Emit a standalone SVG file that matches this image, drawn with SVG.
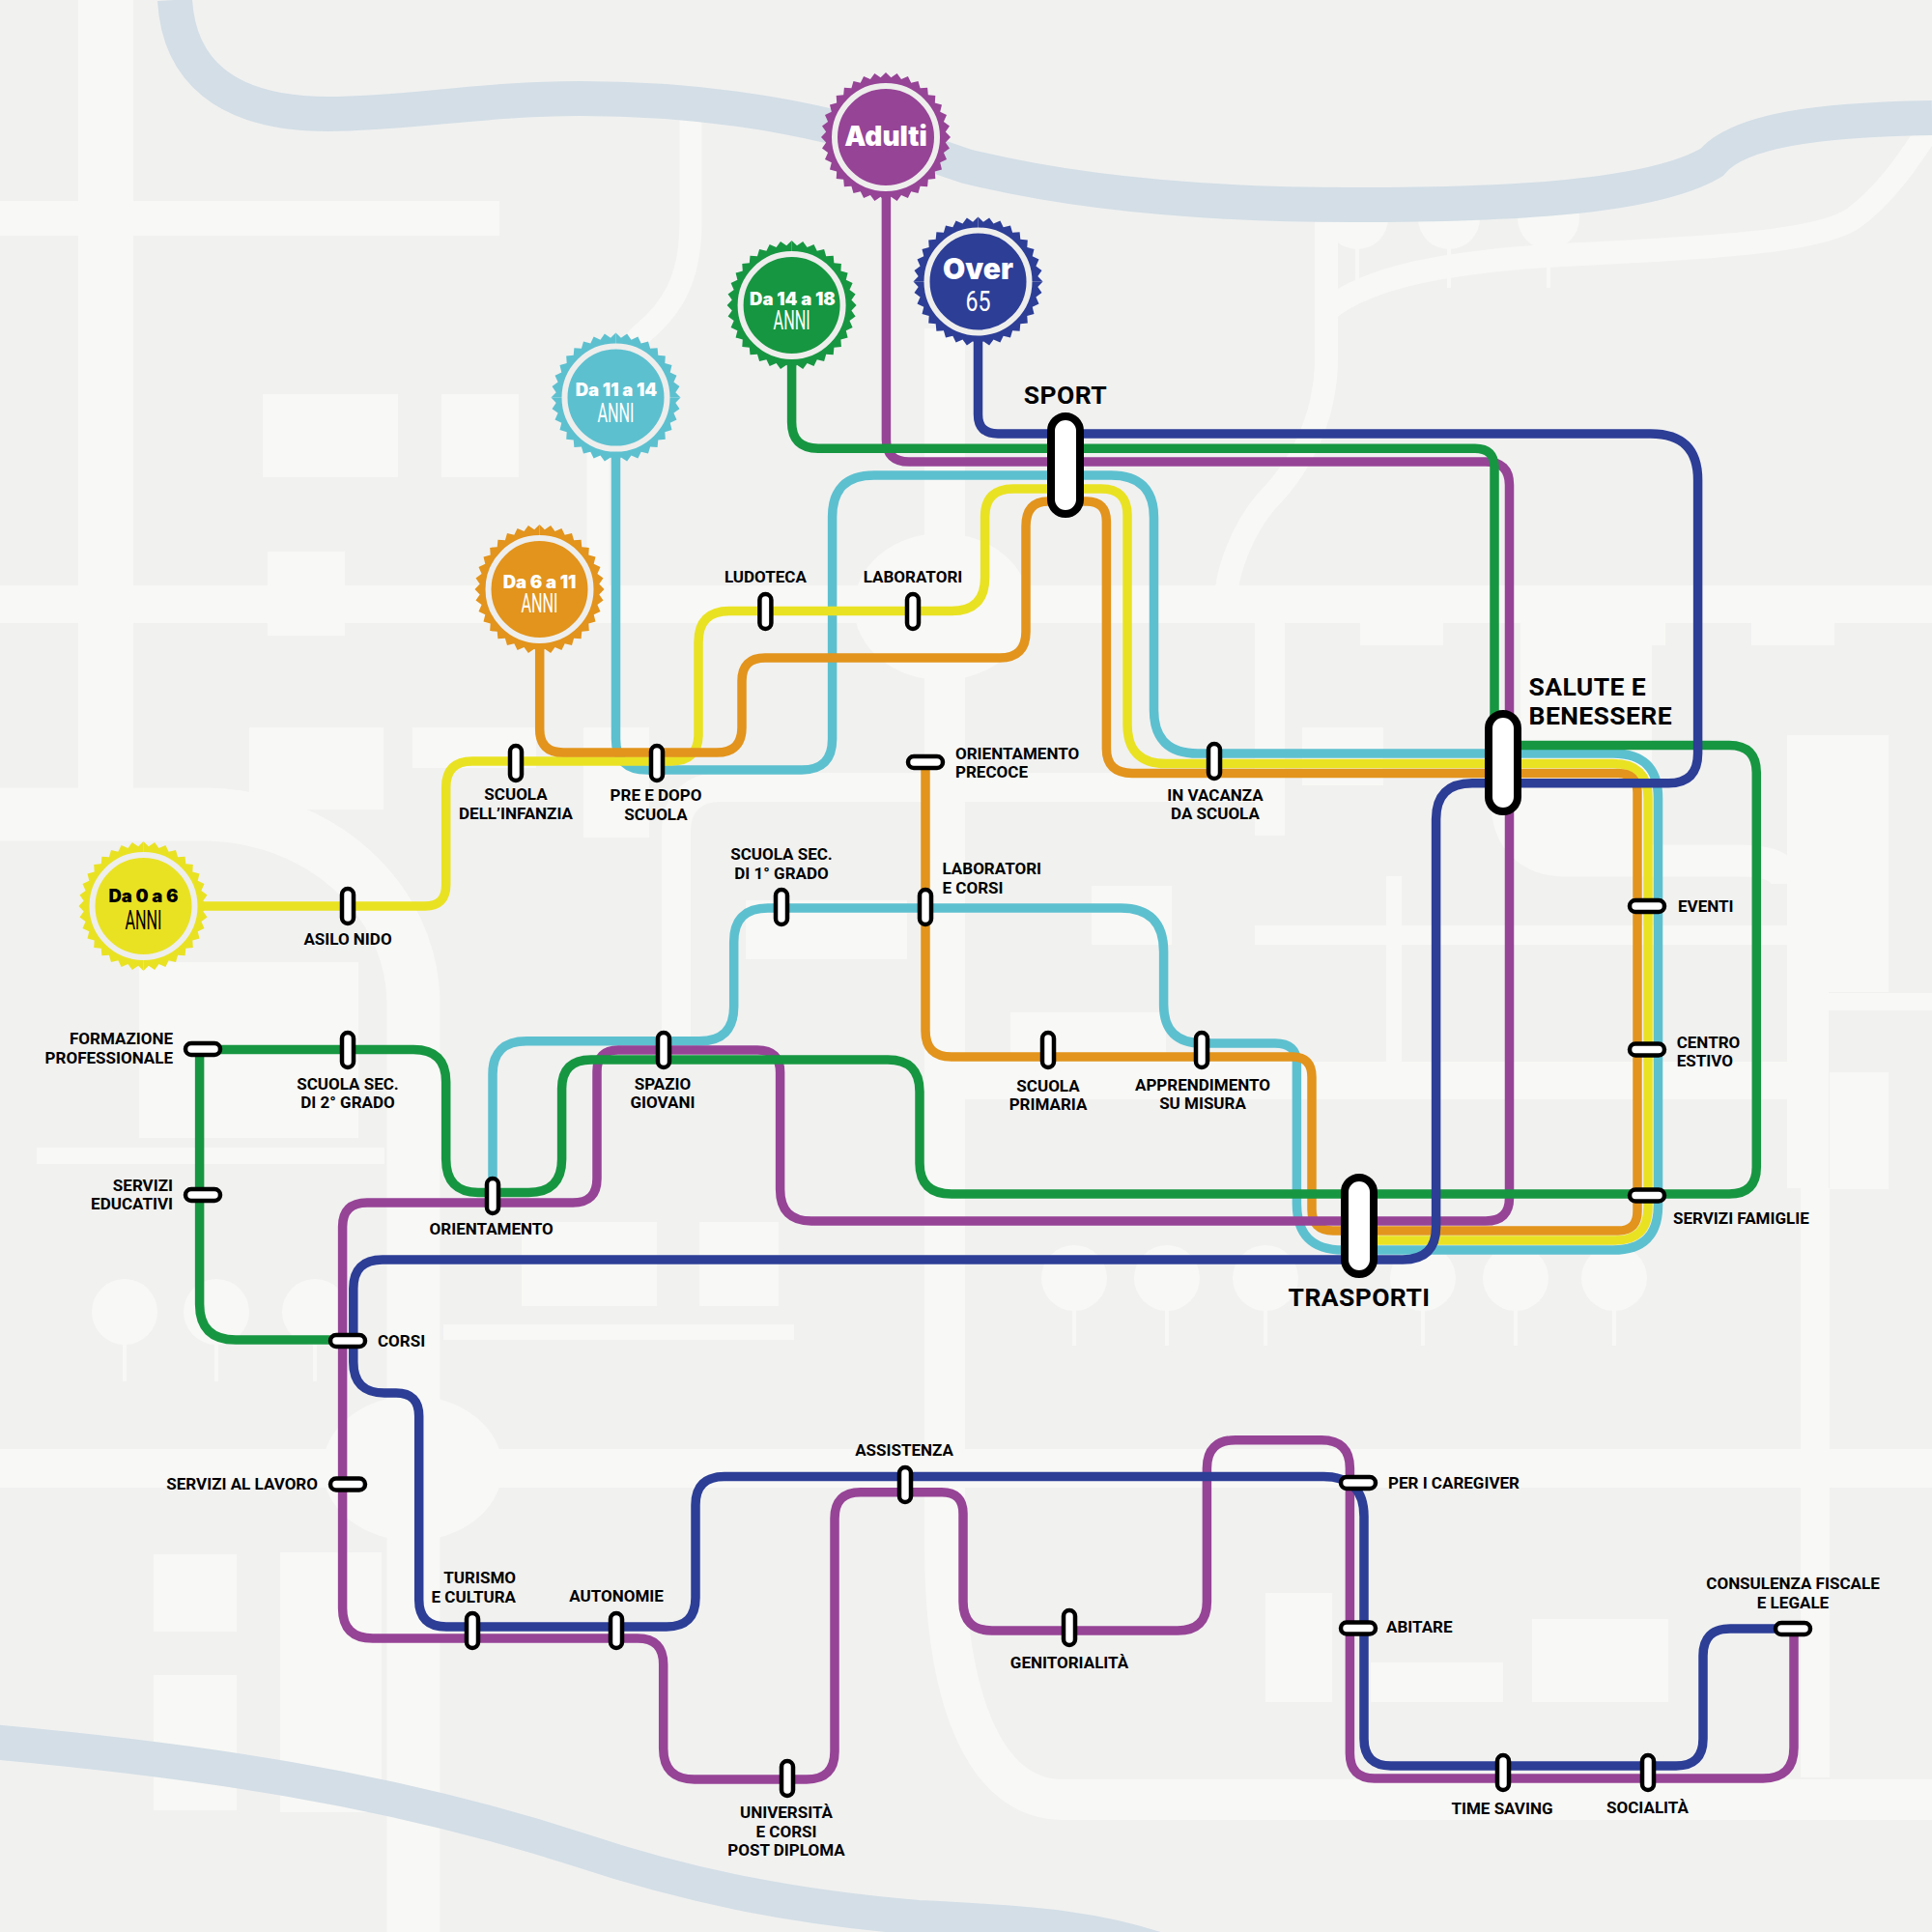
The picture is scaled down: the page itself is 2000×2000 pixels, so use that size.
<svg xmlns="http://www.w3.org/2000/svg" width="2000" height="2000" viewBox="0 0 2000 2000">
<style>
.road{fill:#f8f8f6}
.roadl{fill:none;stroke:#f8f8f6}
.river{fill:none;stroke:#d3dee6;stroke-width:36}
.ln{fill:none;stroke-width:9.5;stroke-linejoin:round}
.st{fill:#fff;stroke:#000;stroke-width:4.5}
.hub{fill:#fff;stroke:#000;stroke-width:8}
.ring{stroke:#eeeeed;stroke-width:6}
text{font-family:Roboto,"Liberation Sans",sans-serif;font-weight:700;fill:#000}
.l{font-size:17px}
.b{font-size:26.5px;letter-spacing:.4px}
.m{text-anchor:middle}
.e{text-anchor:end}
.t{font-family:Inter,"Open Sans",sans-serif;font-weight:900;fill:#fff;text-anchor:middle}
.a{font-family:Roboto,sans-serif;font-weight:400;fill:#fff;text-anchor:middle;font-size:27px}
</style>
<defs>
<path id="q" d="M0 0L67 0L61.8 5.4L66 11.6L59.9 16L63 22.9L56.2 26.2L58 33.5L50.8 35.6L51.3 43.1L43.8 43.8L43.1 51.3L35.6 50.8L33.5 58L26.2 56.2L22.9 63L16 59.9L11.6 66L5.4 61.8L0 67Z"/>
<g id="burst"><use href="#q"/><use href="#q" transform="rotate(90)"/><use href="#q" transform="rotate(180)"/><use href="#q" transform="rotate(270)"/></g>
</defs>
<rect width="2000" height="2000" fill="#f1f1f0"/>
<g id="background">
<rect class="road" x="81" y="0" width="57" height="830"/>
<rect class="road" x="0" y="208" width="517" height="36"/>
<rect class="road" x="0" y="606" width="2000" height="39"/>
<rect class="road" x="272" y="408" width="140" height="86"/>
<rect class="road" x="457" y="408" width="80" height="86"/>
<rect class="road" x="277" y="571" width="80" height="87"/>
<rect class="road" x="258" y="753" width="139" height="85"/>
<rect class="road" x="427" y="753" width="128" height="42"/>
<rect class="road" x="604" y="753" width="68" height="114"/>
<path class="roadl" stroke-width="55" d="M0 843H210C330 843 428 930 428 1040V2000"/>
<rect class="road" x="144" y="996" width="227" height="182"/>
<rect class="road" x="38" y="1188" width="360" height="17"/>
<g class="road">
<circle cx="129" cy="1358" r="34"/><circle cx="224" cy="1358" r="34"/><circle cx="326" cy="1358" r="34"/>
<circle cx="1112" cy="1323" r="34"/><circle cx="1208" cy="1323" r="34"/><circle cx="1310" cy="1323" r="34"/><circle cx="1473" cy="1323" r="34"/><circle cx="1569" cy="1323" r="34"/><circle cx="1671" cy="1323" r="34"/>
<rect x="127" y="1380" width="4" height="50"/><rect x="222" y="1380" width="4" height="50"/><rect x="324" y="1380" width="4" height="50"/>
<rect x="1110" y="1345" width="4" height="48"/><rect x="1206" y="1345" width="4" height="48"/><rect x="1308" y="1345" width="4" height="48"/><rect x="1471" y="1345" width="4" height="48"/><rect x="1567" y="1345" width="4" height="48"/><rect x="1669" y="1345" width="4" height="48"/>
<circle cx="1405" cy="226" r="32"/><circle cx="1500" cy="226" r="32"/><circle cx="1603" cy="226" r="32"/>
<rect x="1403" y="250" width="4" height="48"/><rect x="1498" y="250" width="4" height="48"/><rect x="1601" y="250" width="4" height="48"/>
</g>
<rect class="road" x="459" y="1371" width="363" height="16"/>
<rect class="road" x="540" y="1265" width="140" height="87"/>
<rect class="road" x="724" y="1265" width="82" height="87"/>
<rect class="road" x="0" y="1500" width="2000" height="40"/>
<ellipse class="road" cx="427" cy="1520" rx="93" ry="75"/>
<rect class="road" x="159" y="1609" width="86" height="80"/>
<rect class="road" x="159" y="1734" width="86" height="140"/>
<rect class="road" x="290" y="1607" width="105" height="269"/>
<path class="roadl" stroke-width="42" d="M978 340V1600C978 1760 1020 1863 1100 1863H2000"/>
<ellipse class="road" cx="975" cy="628" rx="91" ry="76"/>
<rect class="road" x="1310" y="1649" width="69" height="113"/>
<rect class="road" x="1419" y="1721" width="137" height="41"/>
<rect class="road" x="1586" y="1676" width="141" height="86"/>
<path class="roadl" stroke-width="24" d="M1373 230V370C1373 440 1340 490 1310 520C1285 550 1272 590 1270 610"/>
<path class="roadl" stroke-width="24" d="M1375 320C1420 285 1500 272 1600 265C1720 258 1880 255 1920 225C1960 195 1985 150 2000 130"/>
<path class="roadl" stroke-width="23" d="M715 120V230C715 290 695 320 665 345C635 375 618 400 619 470V610"/>
<rect class="road" x="1408" y="645" width="86" height="23"/>
<rect class="road" x="1574" y="645" width="150" height="23"/>
<rect class="road" x="1813" y="645" width="86" height="23"/>
<rect class="road" x="1299" y="645" width="31" height="220"/>
<path class="roadl" stroke-width="30" d="M700 1100V860C700 830 720 815 745 815H1310"/>
<rect class="road" x="772" y="932" width="167" height="61"/>
<rect class="road" x="1130" y="917" width="83" height="61"/>
<rect class="road" x="1299" y="958" width="551" height="20"/>
<rect class="road" x="1435" y="907" width="16" height="193"/>
<rect class="road" x="1046" y="1048" width="161" height="50"/>
<rect class="road" x="998" y="1099" width="852" height="39"/>
<rect class="road" x="1348" y="753" width="84" height="60"/>
<rect class="road" x="1574" y="668" width="136" height="207"/>
<path class="roadl" stroke-width="33" d="M1560 760V830C1560 870 1585 891 1620 891H1800C1835 891 1850 900 1850 915"/>
<rect class="road" x="1850" y="761" width="105" height="266"/>
<rect class="road" x="1850" y="1027" width="43" height="203"/>
<rect class="road" x="1864" y="1230" width="30" height="610"/>
<rect class="road" x="1893" y="1028" width="107" height="18"/>
<rect class="road" x="1894" y="1110" width="61" height="121"/>
</g>
<g id="rivers">
<path class="river" d="M181 0C185 70 230 118 340 118C420 118 500 102 600 102C760 102 880 130 1000 172C1120 202 1260 212 1400 212C1560 212 1710 205 1772 168C1800 135 1880 124 2000 122"/>
<path class="river" d="M-10 1803C200 1822 400 1850 600 1915C720 1955 830 1975 950 1985C1060 1990 1150 1995 1230 2030"/>
</g>
<g id="connectors">
<path class="ln" stroke="#5dc0cf" d="M637.5 411V765Q637.5 797 670 797H830Q861.6 797 861.6 765V535Q861.6 492 905 492H1150Q1194.5 492 1194.5 536V735Q1194.5 780 1240 780H1670Q1716.5 780 1716.5 826V1248Q1716.5 1294 1670 1294H1390Q1342.4 1294 1342.4 1246V1100Q1342.4 1080 1320 1080H1245Q1204.6 1080 1204.6 1040V985Q1204.6 940 1160 940H795Q759.7 940 759.7 975V1042Q759.7 1077.7 724 1077.7H545Q510 1077.7 510 1112V1237"/>
<path class="ln" stroke="#e9e223" d="M148 938H440Q461.7 938 461.7 916V815Q461.7 788 489 788H695Q723 788 723 760V665Q723 632.6 755 632.6H985Q1019.6 632.6 1019.6 598V535Q1019.6 506 1049 506H1140Q1167 506 1167 533V750Q1167 790.6 1207 790.6H1670Q1706 790.6 1706 826V1250Q1706 1284 1672 1284H1407"/>
<path class="ln" stroke="#e2941c" d="M558.7 610V755Q558.7 779 583 779H742Q768 779 768 753V705Q768 681 792 681H1035Q1062 681 1062 654V545Q1062 519 1085 519H1125Q1145.4 519 1145.4 540V775Q1145.4 800.4 1172 800.4H1675Q1695 800.4 1695 820V1254Q1695 1274 1675 1274H1380Q1358 1274 1358 1252V1115Q1358 1094 1338 1094H985Q958 1094 958 1067V789"/>
<path class="ln" stroke="#964496" d="M917.4 142V455Q917.4 478 941 478H1538Q1562.5 478 1562.5 502V1240Q1562.5 1264 1538 1264H840Q807.6 1264 807.6 1231V1110Q807.6 1087 784 1087H640Q618 1087 618 1109V1220Q618 1245 593 1245H380Q354.6 1245 354.6 1270V1665Q354.6 1696 386 1696H660Q686.7 1696 686.7 1723V1810Q686.7 1842 719 1842H835Q864 1842 864 1813V1572Q864 1544.7 891 1544.7H975Q997 1544.7 997 1567V1658Q997 1688 1027 1688H1219Q1249.4 1688 1249.4 1658V1520Q1249.4 1490.7 1279 1490.7H1368Q1397.4 1490.7 1397.4 1520V1815Q1397.4 1841 1423 1841H1825Q1857 1841 1857 1809V1686"/>
<path class="ln" stroke="#179641" d="M819.6 316V437Q819.6 464.3 847 464.3H1527Q1547 464.3 1547 484V790"/>
<path class="ln" stroke="#179641" d="M1556 771.4H1790Q1818.3 771.4 1818.3 800V1208Q1818.3 1236 1790 1236H985Q952 1236 952 1204V1130Q952 1097 919 1097H612Q581.6 1097 581.6 1127V1200Q581.6 1234.4 547 1234.4H495Q461.7 1234.4 461.7 1200V1120Q461.7 1086.6 428 1086.6H210"/>
<path class="ln" stroke="#179641" d="M206.6 1086V1350Q206.6 1387 244 1387H360"/>
<path class="ln" stroke="#2c3e96" d="M1012.5 291V429Q1012.5 449 1033 449H1709Q1757.6 449 1757.6 497V780Q1757.6 810.7 1727 810.7H1524Q1486.6 810.7 1486.6 848V1270Q1486.6 1304 1452 1304H396Q365.8 1304 365.8 1334V1410Q365.8 1442 398 1442H410Q433.7 1442 433.7 1466V1656Q433.7 1684 462 1684H690Q720 1684 720 1654V1558Q720 1528.6 750 1528.6H1370Q1412 1528.6 1412 1570V1800Q1412 1828 1440 1828H1735Q1763 1828 1763 1800V1714Q1763 1686 1791 1686H1856"/>
</g>
<g id="badge-adulti"><use href="#burst" transform="translate(917 142)" fill="#964496"/><circle cx="917" cy="142" r="53" fill="#964496" class="ring"/><text class="t" x="917" y="151" font-size="28">Adulti</text></g>
<g id="badge-over"><use href="#burst" transform="translate(1012.5 291.5)" fill="#2c3e96"/><circle cx="1012.5" cy="291.5" r="53" fill="#2c3e96" class="ring"/><text class="t" x="1012.5" y="289" font-size="30">Over</text><text class="a" x="1012.5" y="322" style="font-size:30px" textLength="26" lengthAdjust="spacingAndGlyphs">65</text></g>
<g id="badge-14-18"><use href="#burst" transform="translate(819.6 316)" fill="#179641"/><circle cx="819.6" cy="316" r="53" fill="#179641" class="ring"/><text class="t" x="820.5" y="315.5" font-size="18.5">Da 14 a 18</text><text class="a" x="819.6" y="341" textLength="38" lengthAdjust="spacingAndGlyphs">ANNI</text></g>
<g id="badge-11-14"><use href="#burst" transform="translate(637.5 411.6)" fill="#5dc0cf"/><circle cx="637.5" cy="411.6" r="53" fill="#5dc0cf" class="ring"/><text class="t" x="638" y="410" font-size="18.5">Da 11 a 14</text><text class="a" x="637.5" y="436.5" textLength="38" lengthAdjust="spacingAndGlyphs">ANNI</text></g>
<g id="badge-6-11"><use href="#burst" transform="translate(558.5 610)" fill="#e2941c"/><circle cx="558.5" cy="610" r="53" fill="#e2941c" class="ring"/><text class="t" x="558.5" y="609" font-size="18.5">Da 6 a 11</text><text class="a" x="558.5" y="634" textLength="38" lengthAdjust="spacingAndGlyphs">ANNI</text></g>
<g id="badge-0-6"><use href="#burst" transform="translate(148.5 938)" fill="#e9e223"/><circle cx="148.5" cy="938" r="53" fill="#e9e223" class="ring"/><text class="t" x="148.5" y="934" font-size="18.5" style="fill:#000">Da 0 a 6</text><text class="a" x="148.5" y="961.5" textLength="38" lengthAdjust="spacingAndGlyphs" style="fill:#000">ANNI</text></g>
<g id="hub-sport"><rect class="hub" x="1088" y="431" width="30" height="101" rx="15"/><text class="b m" x="1103" y="418">SPORT</text></g>
<g id="hub-salute"><rect class="hub" x="1541" y="739" width="30" height="101" rx="15"/><text class="b" x="1582.6" y="720">SALUTE E</text><text class="b" x="1582.6" y="749.6">BENESSERE</text></g>
<g id="hub-trasporti"><rect class="hub" x="1392" y="1219" width="30" height="100" rx="15"/><text class="b m" x="1407" y="1352">TRASPORTI</text></g>
<g id="st-ludoteca"><rect class="st" x="786.4" y="615" width="12" height="36" rx="6"/><text class="l m" x="792.4" y="603">LUDOTECA</text></g>
<g id="st-laboratori"><rect class="st" x="939" y="615" width="12" height="36" rx="6"/><text class="l m" x="945" y="603">LABORATORI</text></g>
<g id="st-asilo"><rect class="st" x="354" y="920" width="12" height="36" rx="6"/><text class="l m" x="360" y="978">ASILO NIDO</text></g>
<g id="st-infanzia"><rect class="st" x="528" y="772" width="12" height="36" rx="6"/><text class="l m" x="534" y="828">SCUOLA</text><text class="l m" x="534" y="848">DELL’INFANZIA</text></g>
<g id="st-predopo"><rect class="st" x="674" y="772" width="12" height="36" rx="6"/><text class="l m" x="679" y="829">PRE E DOPO</text><text class="l m" x="679" y="849">SCUOLA</text></g>
<g id="st-orient-precoce"><rect class="st" x="940" y="783" width="36" height="12" rx="6"/><text class="l" x="989" y="786">ORIENTAMENTO</text><text class="l" x="989" y="805">PRECOCE</text></g>
<g id="st-vacanza"><rect class="st" x="1251" y="770" width="12" height="36" rx="6"/><text class="l m" x="1258" y="829">IN VACANZA</text><text class="l m" x="1258" y="848">DA SCUOLA</text></g>
<g id="st-sec1"><rect class="st" x="803" y="921" width="12" height="36" rx="6"/><text class="l m" x="809" y="890">SCUOLA SEC.</text><text class="l m" x="809" y="910">DI 1° GRADO</text></g>
<g id="st-labcorsi"><rect class="st" x="952" y="921" width="12" height="36" rx="6"/><text class="l" x="975.5" y="905">LABORATORI</text><text class="l" x="975.5" y="925">E CORSI</text></g>
<g id="st-sec2"><rect class="st" x="354" y="1069" width="12" height="36" rx="6"/><text class="l m" x="360" y="1128">SCUOLA SEC.</text><text class="l m" x="360" y="1147">DI 2° GRADO</text></g>
<g id="st-formazione"><rect class="st" x="192" y="1080" width="36" height="12" rx="6"/><text class="l e" x="179" y="1081">FORMAZIONE</text><text class="l e" x="179" y="1101">PROFESSIONALE</text></g>
<g id="st-educativi"><rect class="st" x="192" y="1231" width="36" height="12" rx="6"/><text class="l e" x="179" y="1233">SERVIZI</text><text class="l e" x="179" y="1252">EDUCATIVI</text></g>
<g id="st-spazio"><rect class="st" x="681" y="1069" width="12" height="36" rx="6"/><text class="l m" x="686" y="1128">SPAZIO</text><text class="l m" x="686" y="1147">GIOVANI</text></g>
<g id="st-primaria"><rect class="st" x="1079" y="1069" width="12" height="36" rx="6"/><text class="l m" x="1085" y="1130">SCUOLA</text><text class="l m" x="1085" y="1149">PRIMARIA</text></g>
<g id="st-apprendimento"><rect class="st" x="1238" y="1069" width="12" height="36" rx="6"/><text class="l m" x="1245" y="1129">APPRENDIMENTO</text><text class="l m" x="1245" y="1148">SU MISURA</text></g>
<g id="st-orientamento"><rect class="st" x="504" y="1220" width="12" height="36" rx="6"/><text class="l m" x="508.7" y="1278">ORIENTAMENTO</text></g>
<g id="st-corsi"><rect class="st" x="342" y="1382" width="36" height="12" rx="6"/><text class="l" x="391" y="1394">CORSI</text></g>
<g id="st-eventi"><rect class="st" x="1687" y="932" width="36" height="12" rx="6"/><text class="l" x="1737" y="944">EVENTI</text></g>
<g id="st-centro"><rect class="st" x="1687" y="1080.5" width="36" height="12" rx="6"/><text class="l" x="1735.7" y="1085">CENTRO</text><text class="l" x="1735.7" y="1104">ESTIVO</text></g>
<g id="st-famiglie"><rect class="st" x="1687" y="1231.5" width="36" height="12" rx="6"/><text class="l" x="1732" y="1267">SERVIZI FAMIGLIE</text></g>
<g id="st-lavoro"><rect class="st" x="342" y="1530.5" width="36" height="12" rx="6"/><text class="l e" x="329" y="1542">SERVIZI AL LAVORO</text></g>
<g id="st-turismo"><rect class="st" x="483" y="1670" width="12" height="36" rx="6"/><text class="l e" x="534" y="1639">TURISMO</text><text class="l e" x="534" y="1659">E CULTURA</text></g>
<g id="st-autonomie"><rect class="st" x="632" y="1670" width="12" height="36" rx="6"/><text class="l m" x="638" y="1658">AUTONOMIE</text></g>
<g id="st-assistenza"><rect class="st" x="931" y="1519" width="12" height="36" rx="6"/><text class="l m" x="936" y="1507">ASSISTENZA</text></g>
<g id="st-universita"><rect class="st" x="809" y="1823" width="12" height="36" rx="6"/><text class="l m" x="814" y="1882">UNIVERSITÀ</text><text class="l m" x="814" y="1902">E CORSI</text><text class="l m" x="814" y="1921">POST DIPLOMA</text></g>
<g id="st-caregiver"><rect class="st" x="1388" y="1529" width="36" height="12" rx="6"/><text class="l" x="1437" y="1541">PER I CAREGIVER</text></g>
<g id="st-abitare"><rect class="st" x="1388" y="1679.5" width="36" height="12" rx="6"/><text class="l" x="1435" y="1690">ABITARE</text></g>
<g id="st-genitorialita"><rect class="st" x="1101" y="1667" width="12" height="36" rx="6"/><text class="l m" x="1107" y="1727">GENITORIALITÀ</text></g>
<g id="st-time"><rect class="st" x="1550" y="1817" width="12" height="36" rx="6"/><text class="l m" x="1555" y="1878">TIME SAVING</text></g>
<g id="st-socialita"><rect class="st" x="1700" y="1817" width="12" height="36" rx="6"/><text class="l m" x="1705.5" y="1877">SOCIALITÀ</text></g>
<g id="st-consulenza"><rect class="st" x="1838" y="1680" width="36" height="12" rx="6"/><text class="l m" x="1856" y="1645">CONSULENZA FISCALE</text><text class="l m" x="1856" y="1665">E LEGALE</text></g>
</svg>
